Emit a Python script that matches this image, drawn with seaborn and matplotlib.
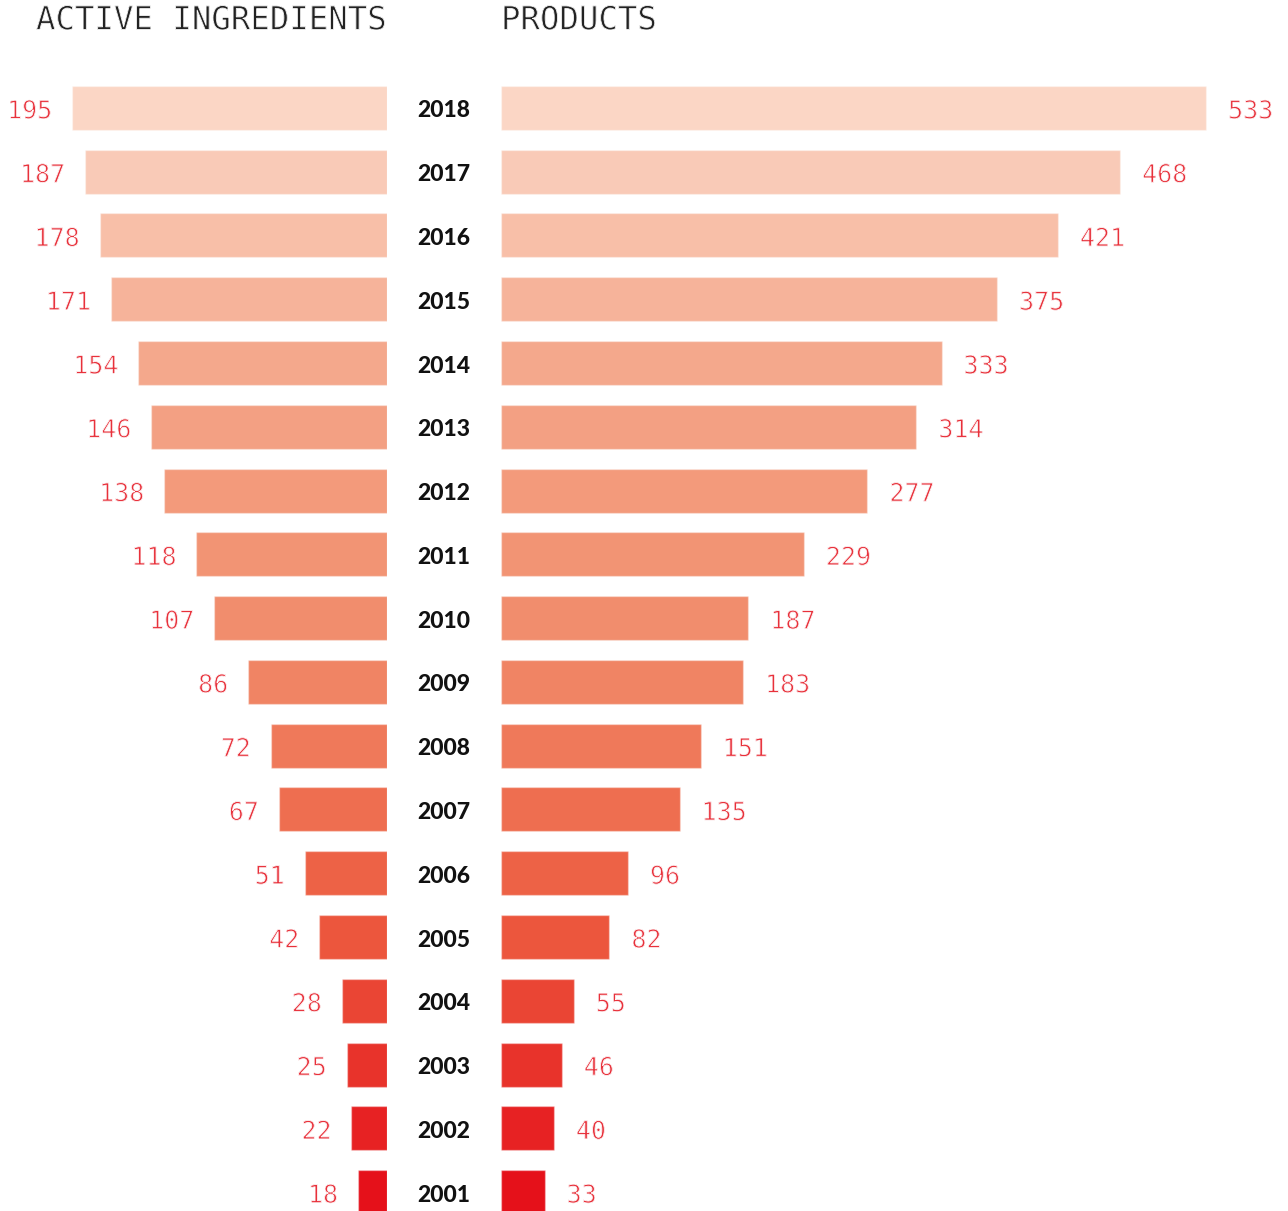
import matplotlib
matplotlib.use("Agg")
import matplotlib.pyplot as plt
import matplotlib.patheffects as pe
from matplotlib.colors import LinearSegmentedColormap, to_hex
from matplotlib.transforms import blended_transform_factory, offset_copy
import seaborn as sns
import pandas as pd
import numpy as np

years = [2018, 2017, 2016, 2015, 2014, 2013, 2012, 2011, 2010,
         2009, 2008, 2007, 2006, 2005, 2004, 2003, 2002, 2001]
active_ingredients = [195, 187, 178, 171, 154, 146, 138, 118, 107,
                      86, 72, 67, 51, 42, 28, 25, 22, 18]
products = [533, 468, 421, 375, 333, 314, 277, 229, 187,
            183, 151, 135, 96, 82, 55, 46, 40, 33]

df = pd.DataFrame({
    "year": [str(y) for y in years],
    "active": active_ingredients,
    "products": products,
})

sns.set_style("white")
plt.rcParams["font.family"] = ["DejaVu Sans Mono", "DejaVu Sans"]

# peach-to-red ramp, one shade per year from top to bottom
ramp = LinearSegmentedColormap.from_list(
    "peach_red", ["#fbd6c5", "#f4a588", "#f18a69", "#ec5a3f", "#e5111a"])
shades = [to_hex(ramp(t)) for t in np.linspace(0, 1, len(years))]
palette = dict(zip(df["year"], shades))

# slightly thin the monospace glyphs by eroding their outline with white
thin = [pe.Normal(), pe.Stroke(linewidth=0.6, foreground="white")]

W, H = 1288, 1211
fig = plt.figure(figsize=(W / 100, H / 100), dpi=100)

top_px, bot_px = 76, 1224
ax_bottom = 1 - bot_px / H
ax_height = (bot_px - top_px) / H

ax_l = fig.add_axes([0, ax_bottom, 387 / W, ax_height])
ax_r = fig.add_axes([501 / W, ax_bottom, (W - 501) / W, ax_height])

bar_kw = dict(orient="h", width=0.69, saturation=1, legend=False,
              edgecolor=(1, 1, 1, 0.35), linewidth=1)
sns.barplot(data=df, x="active", y="year", hue="year", palette=palette,
            ax=ax_l, **bar_kw)
sns.barplot(data=df, x="products", y="year", hue="year", palette=palette,
            ax=ax_r, **bar_kw)

ax_l.set_xlim(387 / 1.615, 0)
ax_r.set_xlim(0, (W - 501) / 1.323)
for ax in (ax_l, ax_r):
    ax.set_ylim(len(years) - 0.5, -0.5)
    ax.set_axis_off()

label_color = "#e8313b"
for i, v in enumerate(active_ingredients):
    ax_l.annotate(str(v), (v, i), xytext=(-14.4, -2.6), textcoords="offset points",
                  ha="right", va="center", fontsize=18, color=label_color,
                  path_effects=thin)
for i, v in enumerate(products):
    ax_r.annotate(str(v), (v, i), xytext=(15.8, -2.6), textcoords="offset points",
                  ha="left", va="center", fontsize=18, color=label_color,
                  path_effects=thin)

tr = blended_transform_factory(fig.transFigure, ax_l.transData)
tr = offset_copy(tr, fig=fig, x=0, y=-2.2, units="points")
for i, y in enumerate(years):
    ax_l.text(444 / W, i, str(y), transform=tr, ha="center", va="center",
              fontsize=16.5, fontweight=900, family=["Lato", "DejaVu Sans"],
              color="#111111", clip_on=False)

fig.text(36 / W, 1 - 21 / H, "ACTIVE INGREDIENTS", ha="left", va="center",
         fontsize=23.3, color="#222222", path_effects=thin)
fig.text(501 / W, 1 - 21 / H, "PRODUCTS", ha="left", va="center",
         fontsize=23.3, color="#222222", path_effects=thin)

fig.savefig("out.png", dpi=100)
